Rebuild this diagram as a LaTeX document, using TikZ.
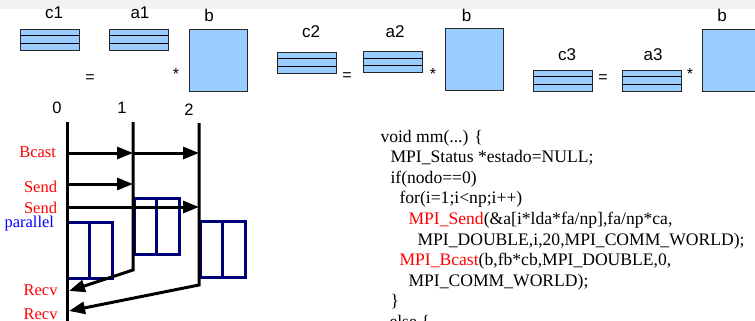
\documentclass[tikz,border=0pt]{standalone}
\usepackage{fontspec}
\setmainfont{Liberation Serif}
\setsansfont{Liberation Sans}
\usepackage{tikz}
\usetikzlibrary{arrows.meta,positioning,calc}

\definecolor{cellblue}{HTML}{99CCFF}
\definecolor{procblue}{HTML}{00007A}
\definecolor{topgray}{HTML}{F2F2F2}

\begin{document}
\begin{tikzpicture}[x=1pt, y=-1pt, >={Triangle[length=16pt,width=12pt]}, line width=3pt]
	\tikzstyle{mat}=[draw=black!85, fill=cellblue, line width=0.9pt, minimum width=59pt, minimum height=21pt, inner sep=0pt]
	\tikzstyle{sq}=[draw=black!85, fill=cellblue, line width=0.9pt, minimum width=58pt, minimum height=62pt, inner sep=0pt]
	\tikzstyle{lbl}=[font=\sffamily\fontsize{17}{18}\selectfont, inner sep=0pt, anchor=base]
	\tikzstyle{num}=[font=\sffamily\fontsize{16.5}{17}\selectfont, inner sep=0pt, anchor=base]
	\tikzstyle{op}=[font=\sffamily\fontsize{16}{16}\selectfont, inner sep=0pt, anchor=base]
	\tikzstyle{call}=[font=\fontsize{16.5}{18}\selectfont, text=red, inner sep=0pt, anchor=base east]
	\tikzstyle{code}=[font=\fontsize{17.6}{20}\selectfont, inner sep=0pt, anchor=base west]
	\tikzstyle{blk}=[draw=procblue, line width=3pt, minimum width=45pt, minimum height=56pt, inner sep=0pt]
	\useasboundingbox (0,0) rectangle (755,321);
	\clip (0,0) rectangle (755,321);
	\fill[topgray] (0,0) rectangle (755,9);

	% c = a * b, three blocks
	\node[mat] (c1) at (49.5,39.5) {};
	\node[mat] (a1) at (138.5,39.5) {};
	\node[sq]  (b1) at (218,60) {};
	\node[mat] (c2) at (306.5,62.5) {};
	\node[mat] (a2) at (392.5,62) {};
	\node[sq]  (b2) at (474,59.5) {};
	\node[mat] (c3) at (562.5,80.5) {};
	\node[mat] (a3) at (651.5,80.5) {};
	\node[sq]  (b3) at (731,60) {};
	\foreach \m in {c1,a1,c2,a2,c3,a3}{
		\draw[line width=0.9pt] ($(\m.north west)!1/3!(\m.south west)$) -- ($(\m.north east)!1/3!(\m.south east)$);
		\draw[line width=0.9pt] ($(\m.north west)!2/3!(\m.south west)$) -- ($(\m.north east)!2/3!(\m.south east)$);
	}
	\node[lbl] (lc1) at (54,19) {c1};
	\node[lbl] (la1) at (140,19) {a1};
	\node[lbl] (lb1) at (209,22) {b};
	\node[lbl] (lc2) at (311,38) {c2};
	\node[lbl] (la2) at (395,38) {a2};
	\node[lbl] (lb2) at (466.5,22) {b};
	\node[lbl] (lc3) at (567,61) {c3};
	\node[lbl] (la3) at (653,61) {a3};
	\node[lbl] (lb3) at (722,22) {b};
	\node[op] (eq1) at (90,82) {=};
	\node[op] (st1) at (176,80) {*};
	\node[op] (eq2) at (347,81) {=};
	\node[op] (st2) at (433,79) {*};
	\node[op] (eq3) at (603,82) {=};
	\node[op] (st3) at (690,80) {*};

	% processes
	\node[num] (n0) at (57,113) {0};
	\node[num] (n1) at (122,113) {1};
	\node[num] (n2) at (189,115) {2};
	\coordinate (t0) at (67,122);
	\coordinate (e0) at (67,330);
	\coordinate (t1) at (133,122);
	\coordinate (e1) at (133,270);
	\coordinate (t2) at (199,123);
	\coordinate (e2) at (199,285);
	\coordinate (r1) at (69,291);
	\coordinate (r2) at (69,311);
	\node[blk] (k0) at (89.5,250) {};
	\node[blk] (k1) at (156.5,226) {};
	\node[blk] (k2) at (222.5,249.5) {};
	\draw[draw=procblue, line width=3pt] (k0.north) -- (k0.south);
	\draw[draw=procblue, line width=3pt] (k1.north) -- (k1.south);
	\draw[draw=procblue, line width=3pt] (k2.north) -- (k2.south);
	\draw (t0) -- (e0);
	\draw[->] (t1) -- (e1) -- (r1);
	\draw[->] (t2) -- (e2) -- (r2);
	\coordinate (bc0) at (67,153);
	\coordinate (bc1) at (133,153);
	\coordinate (bc2) at (199,153);
	\coordinate (sa0) at (67,184);
	\coordinate (sa1) at (133,184);
	\coordinate (sb0) at (67,207);
	\coordinate (sb2) at (199,207);
	\draw[->] (bc0) -- (bc1);
	\draw[->] (bc1) -- (bc2);
	\draw[->] (sa0) -- (sa1);
	\draw[->] (sb0) -- (sb2);
	\node[call] (bcast) at (57.5,157) {Bcast};
	\node[call] (send1) at (58.5,192) {Send};
	\node[call] (send2) at (58.5,213) {Send};
	\node[call, text=blue] (par) at (55.5,227) {parallel};
	\node[call] (recv1) at (59,295) {Recv};
	\node[call] (recv2) at (59,319) {Recv};

	% code
	\node[code] (l1) at (379,142) {void mm(...) \{};
	\node[code] (l2) at (389,162.6) {MPI\_Status *estado=NULL;};
	\node[code] (l3) at (389,183.2) {if(nodo==0)};
	\node[code] (l4) at (398,203.8) {for(i=1;i<np;i++)};
	\node[code] (l5) at (407,224.4) {\textcolor{red}{MPI\_Send}(\&a[i*lda*fa/np],fa/np*ca,};
	\node[code] (l6) at (416,245) {MPI\_DOUBLE,i,20,MPI\_COMM\_WORLD);};
	\node[code] (l7) at (398,265.6) {\textcolor{red}{MPI\_Bcast}(b,fb*cb,MPI\_DOUBLE,0,};
	\node[code] (l8) at (407,286.2) {MPI\_COMM\_WORLD);};
	\node[code] (l9) at (389,306.8) {\}};
	\node[code] (l10) at (388,327.4) {else \{};
\end{tikzpicture}
\end{document}
